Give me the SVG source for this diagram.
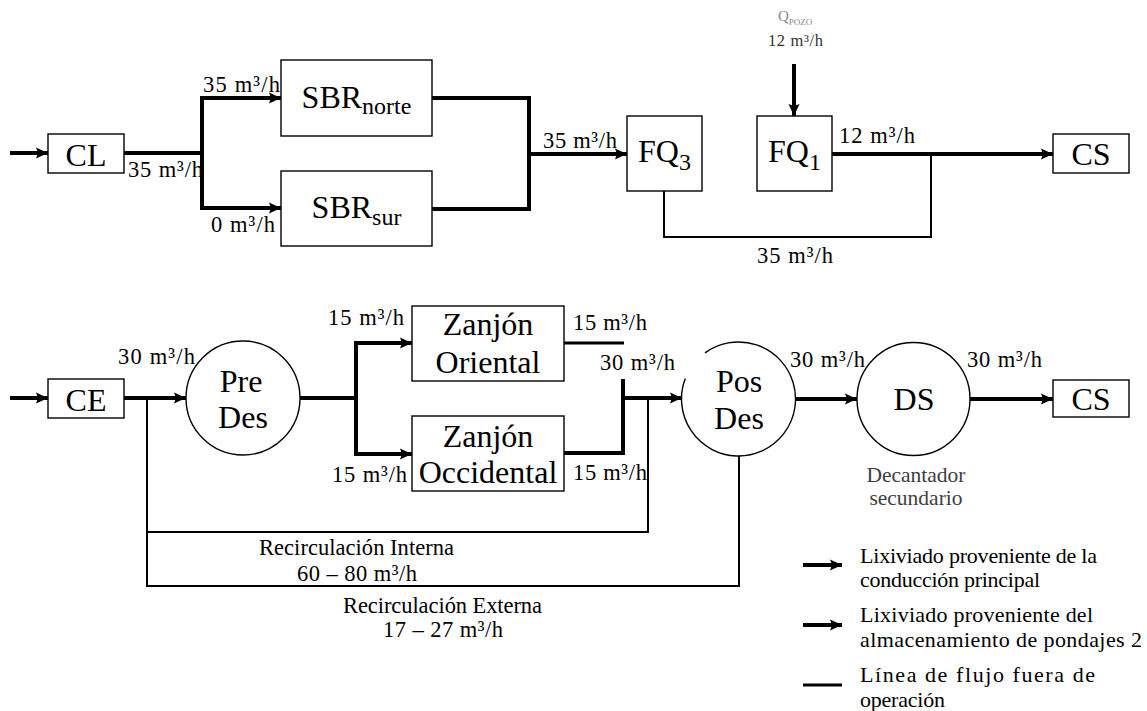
<svg xmlns="http://www.w3.org/2000/svg" width="1147" height="711" viewBox="0 0 1147 711">
<style>
text{font-family:"Liberation Serif","Times New Roman",serif;fill:#000}
.node{fill:#fff;stroke:#000;stroke-width:1.4}
.nl{font-size:32px;text-anchor:middle}
.sub{font-size:24px}
.lab{font-size:22.5px}
.thick{fill:none;stroke:#000;stroke-width:4;stroke-linejoin:miter}
.mid{fill:none;stroke:#000;stroke-width:3}
.thin{fill:none;stroke:#000;stroke-width:2}
.arr{marker-end:url(#ah)}
.leg{font-size:22px}
.grey{fill:#404040}
</style>
<defs>
<marker id="ah" markerUnits="userSpaceOnUse" markerWidth="12" markerHeight="12" refX="12" refY="6" orient="auto">
<path d="M0,0.5 L12,6 L0,11.5 L2,6 z" fill="#000"/>
</marker>
</defs>
<rect width="1147" height="711" fill="#fff"/>

<g id="connectors">
<path class="thick arr" d="M10,153 H48"/>
<path class="thick" d="M124,153 H202"/>
<path class="thick arr" d="M202,153 V98 H281"/>
<path class="thick arr" d="M202,153 V208 H281"/>
<path class="thick" d="M432,98 H529 V209 H432"/>
<path class="thick arr" d="M529,154 H627"/>
<path class="thick arr" d="M794,64 V116"/>
<path class="thick arr" d="M832,154 H1053"/>
<path class="thin" d="M664,191 V237 H931 V154"/>

<path class="thick arr" d="M10,398 H48"/>
<path class="thick arr" d="M124,398 H186"/>
<path class="thick" d="M300,398 H356"/>
<path class="thick arr" d="M356,398 V343 H412"/>
<path class="thick arr" d="M356,398 V454 H412"/>
<path class="mid" d="M564,343 H624"/>
<path class="thick" d="M564,453 H623 V379"/>
<path class="thick arr" d="M623,398 H682"/>
<path class="thin" d="M648,398 V532 H147"/>
<path class="thin" d="M147,398 V586 H739 V456"/>
<path class="thick arr" d="M795,399 H857"/>
<path class="thick arr" d="M970,399 H1053"/>
</g>

<g id="CL"><rect class="node" x="48" y="134" width="76" height="39"/><text class="nl" x="86" y="166">CL</text></g>
<g id="SBRnorte"><rect class="node" x="281" y="60" width="151" height="76"/><text class="nl" x="356.5" y="108">SBR<tspan class="sub" dy="6">norte</tspan></text></g>
<g id="SBRsur"><rect class="node" x="281" y="171" width="151" height="75"/><text class="nl" x="356.5" y="218">SBR<tspan class="sub" dy="7">sur</tspan></text></g>
<g id="FQ3"><rect class="node" x="627" y="116" width="75" height="75"/><text class="nl" x="664.5" y="162">FQ<tspan class="sub" dy="8">3</tspan></text></g>
<g id="FQ1"><rect class="node" x="757" y="116" width="75" height="75"/><text class="nl" x="794.5" y="162">FQ<tspan class="sub" dy="8">1</tspan></text></g>
<g id="CS1"><rect class="node" x="1053" y="134" width="76" height="39"/><text class="nl" x="1091" y="165">CS</text></g>

<g id="CE"><rect class="node" x="48" y="379" width="76" height="39"/><text class="nl" x="86" y="411">CE</text></g>
<g id="PreDes"><circle class="node" cx="243" cy="398" r="57"/><text class="nl" x="241" y="392">Pre</text><text class="nl" x="243" y="428">Des</text></g>
<g id="ZanjonOriental"><rect class="node" x="412" y="306" width="152" height="75"/><text class="nl" x="488" y="335">Zanjón</text><text class="nl" x="488" y="373">Oriental</text></g>
<g id="ZanjonOccidental"><rect class="node" x="412" y="416" width="152" height="75"/><text class="nl" x="488" y="447">Zanjón</text><text class="nl" x="488" y="483">Occidental</text></g>
<g id="PosDes"><path class="node" d="M705,352.9 A57,57 0 1 1 685.3,378.6"/><text class="nl" x="739" y="392">Pos</text><text class="nl" x="739" y="429">Des</text></g>
<g id="DS"><circle class="node" cx="913.5" cy="399" r="56.5"/><text class="nl" x="914" y="410">DS</text>
<text class="lab grey" x="916" y="482" text-anchor="middle" style="font-size:21.5px">Decantador</text><text class="lab grey" x="916" y="505" text-anchor="middle" style="font-size:21.5px">secundario</text></g>
<g id="CS2"><rect class="node" x="1053" y="380" width="76" height="37"/><text class="nl" x="1091" y="410">CS</text></g>

<g id="labels">
<text class="lab" x="203" y="92" textLength="77" lengthAdjust="spacing">35 m³/h</text>
<text class="lab" x="128" y="177" textLength="75" lengthAdjust="spacing">35 m³/h</text>
<text class="lab" x="211" y="232" textLength="64" lengthAdjust="spacing">0 m³/h</text>
<text class="lab" x="543" y="148" textLength="74" lengthAdjust="spacing">35 m³/h</text>
<text class="lab" x="839" y="143" textLength="76" lengthAdjust="spacing">12 m³/h</text>
<text class="lab" x="757" y="263" textLength="76" lengthAdjust="spacing">35 m³/h</text>
<text x="778" y="21" style="font-size:15px;fill:#888">Q<tspan dy="4" style="font-size:9px">POZO</tspan></text>
<text x="768" y="46" style="font-size:16.5px;fill:#333" textLength="55" lengthAdjust="spacing">12 m³/h</text>

<text class="lab" x="118" y="364" textLength="77" lengthAdjust="spacing">30 m³/h</text>
<text class="lab" x="328" y="325" textLength="76" lengthAdjust="spacing">15 m³/h</text>
<text class="lab" x="332" y="482" textLength="75" lengthAdjust="spacing">15 m³/h</text>
<text class="lab" x="573" y="330" textLength="74" lengthAdjust="spacing">15 m³/h</text>
<text class="lab" x="600" y="370" textLength="75" lengthAdjust="spacing">30 m³/h</text>
<text class="lab" x="573" y="480" textLength="74" lengthAdjust="spacing">15 m³/h</text>
<text class="lab" x="790" y="367" textLength="75" lengthAdjust="spacing">30 m³/h</text>
<text class="lab" x="967" y="367" textLength="75" lengthAdjust="spacing">30 m³/h</text>
<text class="lab" x="259" y="555" textLength="195" lengthAdjust="spacing">Recirculación Interna</text>
<text class="lab" x="297" y="581" textLength="120" lengthAdjust="spacing">60 – 80 m³/h</text>
<text class="lab" x="343" y="613" textLength="199" lengthAdjust="spacing">Recirculación Externa</text>
<text class="lab" x="383" y="637" textLength="120" lengthAdjust="spacing">17 – 27 m³/h</text>
</g>

<g id="legend">
<path class="thick arr" d="M803,565 H842"/>
<path class="thick arr" d="M803,625 H842"/>
<path class="mid" d="M803,685 H842"/>
<text class="leg" x="860" y="563" textLength="237" lengthAdjust="spacing">Lixiviado proveniente de la</text>
<text class="leg" x="860" y="587" textLength="180" lengthAdjust="spacing">conducción principal</text>
<text class="leg" x="860" y="622" textLength="233" lengthAdjust="spacing">Lixiviado proveniente del</text>
<text class="leg" x="860" y="647" textLength="282" lengthAdjust="spacing">almacenamiento de pondajes 2</text>
<text class="leg" x="860" y="682" textLength="235" lengthAdjust="spacing">Línea de flujo fuera de</text>
<text class="leg" x="860" y="707" textLength="85" lengthAdjust="spacing">operación</text>
</g>
</svg>
